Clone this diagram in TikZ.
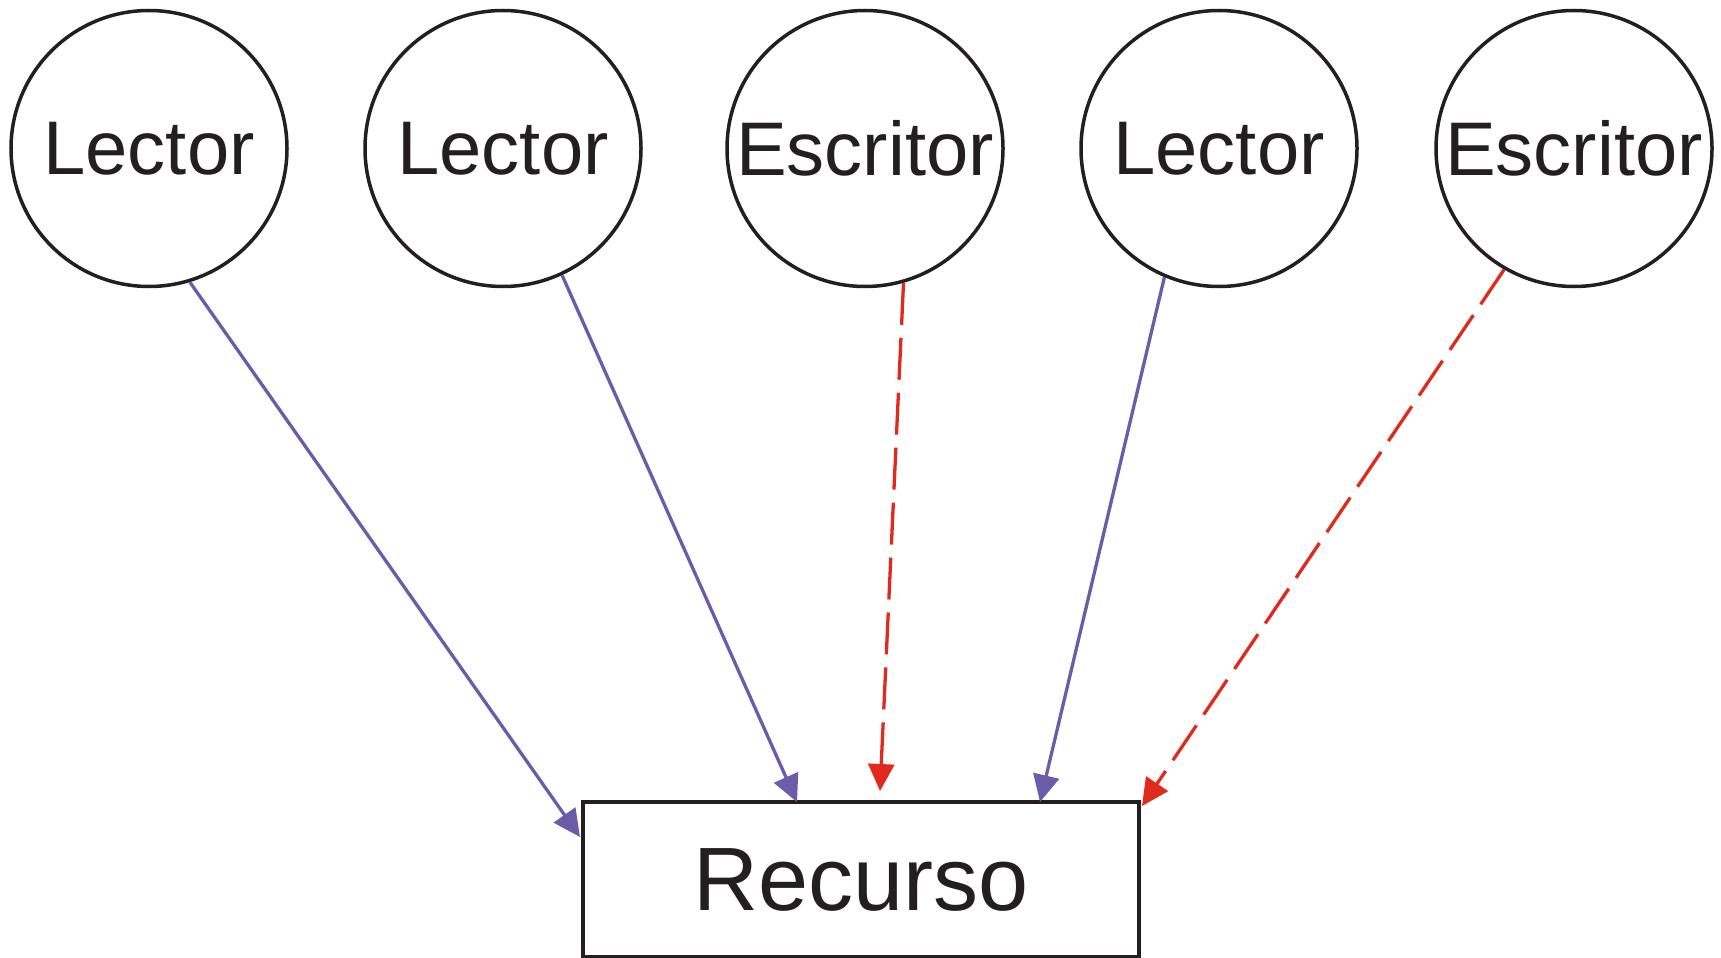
\documentclass[tikz,border=0pt]{standalone}
\usepackage{fontspec}
\setmainfont{Liberation Sans}
\usetikzlibrary{arrows.meta}
\definecolor{inkblack}{RGB}{35,31,32}
\definecolor{lpurple}{RGB}{106,92,168}
\definecolor{wred}{RGB}{224,42,30}
\tikzset{
  proc/.style={circle, draw=inkblack, line width=3.5pt, inner sep=0pt, minimum size=276pt,
    font=\fontsize{76}{80}\selectfont, text=inkblack},
  resbox/.style={draw=inkblack, line width=3.5pt, inner sep=0pt, minimum width=556pt, minimum height=155pt,
    font=\fontsize{90}{96}\selectfont, text=inkblack},
  readarrow/.style={draw=lpurple, line width=3.3pt, -{Triangle[length=27pt,width=26pt]}},
  writearrow/.style={draw=wred, line width=3.3pt, dash pattern=on 42pt off 13pt, -{Triangle[length=27pt,width=26pt]}}
}
\begin{document}
\begin{tikzpicture}[x=1pt,y=-1pt]
\useasboundingbox (0,0) rectangle (1721,958);
\node[proc] (c1) at (149,148.5) {Lector};
\node[proc] (c2) at (503,148.5) {Lector};
\node[proc] (c3) at (865,148.5) {Escritor};
\node[proc] (c4) at (1219,148.5) {Lector};
\node[proc] (c5) at (1574,148.5) {Escritor};
\node[resbox] (r) at (861,879.5) {Recurso};
\coordinate (e1) at (580,837);
\coordinate (e2) at (797,802);
\coordinate (e3) at (880,791);
\coordinate (e4) at (1040,802);
\coordinate (e5) at (1142,806);
\draw[readarrow] (c1.-73) -- (e1);
\draw[readarrow] (c2.-65) -- (e2);
\draw[writearrow] (c3.-74.4) -- (e3);
\draw[readarrow] (c4.-113.8) -- (e4);
\draw[writearrow] (c5.-120) -- (e5);
\end{tikzpicture}
\end{document}
